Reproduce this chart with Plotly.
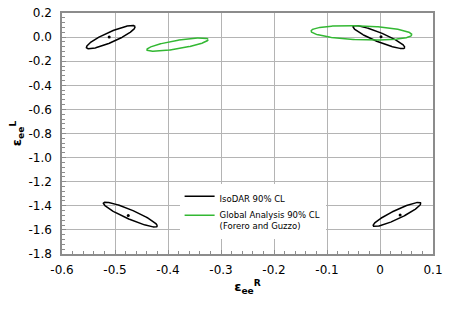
import numpy as np
import plotly.graph_objects as go

# ---- data ----
x_ticks = [-0.6, -0.5, -0.4, -0.3, -0.2, -0.1, 0.0, 0.1]
x_labels = ["-0.6", "-0.5", "-0.4", "-0.3", "-0.2", "-0.1", "0", "0.1"]
y_ticks = [0.2, 0.0, -0.2, -0.4, -0.6, -0.8, -1.0, -1.2, -1.4, -1.6, -1.8]
y_labels = ["0.2", "0.0", "-0.2", "-0.4", "-0.6", "-0.8", "-1.0", "-1.2", "-1.4", "-1.6", "-1.8"]

# IsoDAR 90% CL ellipses: centre, half-extent in x and y, phase (tilt)
iso_cx = [-0.508, -0.002, -0.471, 0.032]
iso_cy = [0.000, 0.000, -1.473, -1.472]
iso_ax = [0.046, 0.049, 0.051, 0.045]
iso_ay = [0.097, 0.095, 0.103, 0.100]
iso_phase = [0.50, 2.69, 2.72, 0.42]
# IsoDAR best-fit points
iso_best_x = [-0.511, 0.002, -0.475, 0.038]
iso_best_y = [0.000, 0.003, -1.480, -1.476]

# Global analysis 90% CL ellipses (Forero and Guzzo)
glob_cx = [-0.382, -0.035]
glob_cy = [-0.062, 0.035]
glob_ax = [0.058, 0.095]
glob_ay = [0.055, 0.060]
glob_phase = [0.70, 1.82]

iso_name = "IsoDAR 90% CL"
glob_name = "Global Analysis 90% CL<br>(Forero and Guzzo)"

BLACK = "#000000"
GREEN = "#33b833"

t = np.linspace(0, 2 * np.pi, 240)


def ellipse(cx, cy, ax, ay, ph):
    return cx + ax * np.cos(t), cy + ay * np.cos(t + ph)


fig = go.Figure()

for i in range(len(iso_cx)):
    ex, ey = ellipse(iso_cx[i], iso_cy[i], iso_ax[i], iso_ay[i], iso_phase[i])
    fig.add_trace(go.Scatter(x=ex, y=ey, mode="lines", name=iso_name,
                             legendgroup="iso", showlegend=(i == 0),
                             line=dict(color=BLACK, width=1.5)))

for i in range(len(glob_cx)):
    ex, ey = ellipse(glob_cx[i], glob_cy[i], glob_ax[i], glob_ay[i], glob_phase[i])
    fig.add_trace(go.Scatter(x=ex, y=ey, mode="lines", name=glob_name,
                             legendgroup="glob", showlegend=(i == 0),
                             line=dict(color=GREEN, width=1.5)))

fig.add_trace(go.Scatter(x=iso_best_x, y=iso_best_y, mode="markers",
                         showlegend=False,
                         marker=dict(color=BLACK, size=3)))

AX = "#8c8c8c"
GRID = "#b4b4b4"

fig.update_xaxes(range=[-0.6, 0.1], tickmode="array", tickvals=x_ticks, ticktext=x_labels,
                 showgrid=True, gridcolor=GRID, gridwidth=1, zeroline=False,
                 showline=True, linecolor=AX, linewidth=1.5, mirror=True,
                 ticks="inside", ticklen=4, tickcolor=AX, tickwidth=1,
                 ticklabelstandoff=4, ticklabeloverflow="allow",
                 minor=dict(tickmode="linear", tick0=-0.6, dtick=0.02, ticks="inside",
                            ticklen=3, tickcolor=AX, showgrid=False),
                 tickfont=dict(size=12, color="#000000"),
                 title=dict(text="<b>ε<sub>ee</sub><sup>R</sup></b>",
                            font=dict(size=13, color="#000000"), standoff=6))

fig.update_yaxes(range=[-1.8, 0.2], tickmode="array", tickvals=y_ticks, ticktext=y_labels,
                 showgrid=True, gridcolor=GRID, gridwidth=1, zeroline=False,
                 showline=True, linecolor=AX, linewidth=1.5, mirror=True,
                 ticks="inside", ticklen=4, tickcolor=AX, tickwidth=1,
                 ticklabelstandoff=6, ticklabeloverflow="allow",
                 minor=dict(tickmode="linear", tick0=-1.8, dtick=0.04, ticks="inside",
                            ticklen=3, tickcolor=AX, showgrid=False),
                 tickfont=dict(size=12, color="#000000"),
                 title=dict(text="<b>ε<sub>ee</sub><sup>L</sup></b>",
                            font=dict(size=13, color="#000000"), standoff=4))

# the page body has an 8px margin, so the figure is drawn 8px in from the corner
fig.update_layout(
    width=450, height=301,
    margin=dict(l=54, r=25, t=5, b=55, autoexpand=False),
    plot_bgcolor="#ffffff", paper_bgcolor="#ffffff",
    font=dict(family="DejaVu Sans", size=12, color="#000000"),
    legend=dict(x=0.317, y=0.29, xanchor="left", yanchor="top",
                bgcolor="#ffffff", borderwidth=0,
                font=dict(size=8.5, color="#000000"),
                itemwidth=30, valign="top", tracegroupgap=0),
)

fig.write_html("out.html")
